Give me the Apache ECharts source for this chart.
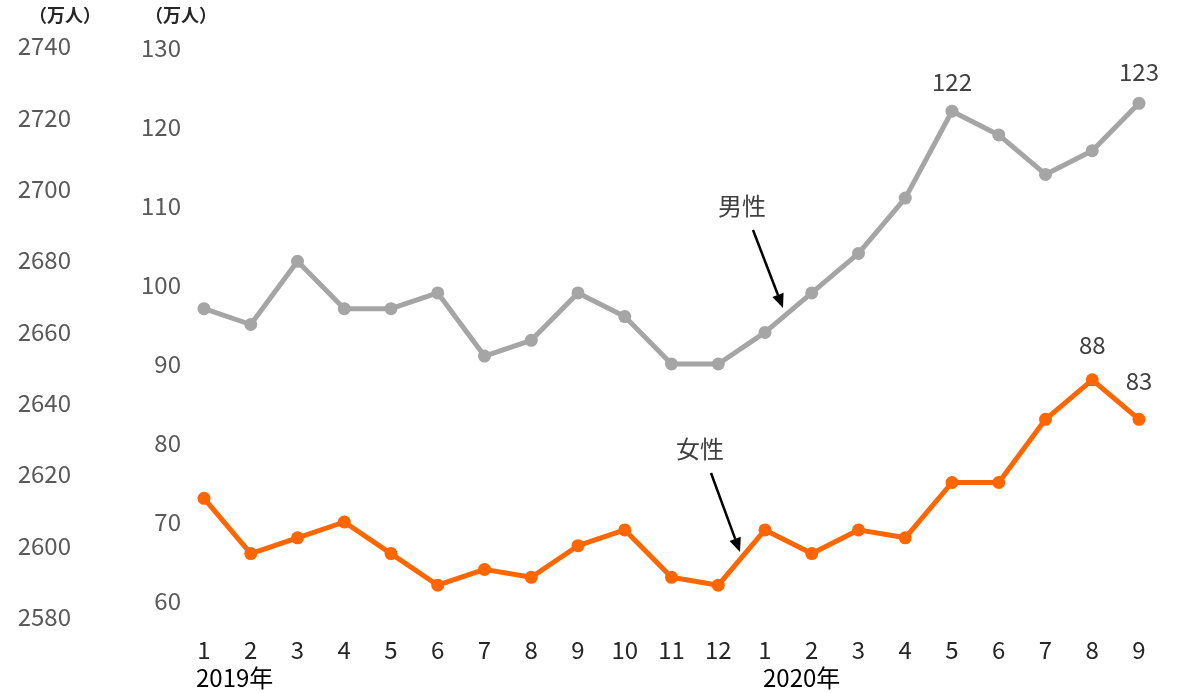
<!DOCTYPE html>
<html>
<head>
<meta charset="utf-8">
<script src="https://cdn.jsdelivr.net/npm/echarts@6/dist/echarts.min.js"></script>
<style>
  html, body { margin: 0; padding: 0; background: #ffffff; }
  #chart { width: 1184px; height: 693px; }
</style>
</head>
<body>
<div id="chart"></div>
<script>
// Months from January 2019 to September 2020
const months = ['1','2','3','4','5','6','7','8','9','10','11','12','1','2','3','4','5','6','7','8','9'];
const yearLabels = ['2019年', '2020年'];

// Employed persons by gender (万人)
const male   = [97, 95, 103, 97, 97, 99, 91, 93, 99, 96, 90, 90, 94, 99, 104, 111, 122, 119, 114, 117, 123];
const female = [73, 66, 68, 70, 66, 62, 64, 63, 67, 69, 63, 62, 69, 66, 69, 68, 75, 75, 83, 88, 83];

// Indices whose values are printed above the point, with label distance
const maleLabeled   = { 16: 11, 20: 13 };
const femaleLabeled = { 19: 16, 20: 20 };

// Scales of the two left axes
const outerAxis = { min: 2580, max: 2740, interval: 20 };
const innerAxis = { min: 60, max: 130, interval: 10 };

const FONT = "'Noto Sans CJK JP', 'Noto Sans', sans-serif";
const GRAY = '#A5A5A5';
const ORANGE = '#FF6600';

function withLabels(values, labeled) {
  return values.map((v, i) => {
    if (labeled[i] === undefined) return v;
    return {
      value: v,
      label: {
        show: true, position: 'top', distance: labeled[i],
        color: '#404040', fontSize: 24, fontFamily: FONT
      }
    };
  });
}

function arrow(x1, y1, x2, y2) {
  const dx = x2 - x1, dy = y2 - y1;
  const len = Math.sqrt(dx * dx + dy * dy);
  const ux = dx / len, uy = dy / len;
  const headLen = 14, half = 6;
  const bx = x2 - ux * headLen, by = y2 - uy * headLen;
  const px = -uy * half, py = ux * half;
  return [
    { type: 'line', shape: { x1: x1, y1: y1, x2: bx, y2: by },
      style: { stroke: '#000', lineWidth: 2.5 } },
    { type: 'polygon', shape: { points: [[x2, y2], [bx + px, by + py], [bx - px, by - py]] },
      style: { fill: '#000' } }
  ];
}

function text(left, top, str, size, color, weight) {
  return {
    type: 'text', left: left, top: top,
    style: { text: str, fontSize: size, fontFamily: FONT, fontWeight: weight || 'normal', fill: color }
  };
}

const chart = echarts.init(document.getElementById('chart'));
chart.setOption({
  animation: false,
  backgroundColor: '#ffffff',
  grid: [
    { left: 94, top: 46, width: 20, height: 571 },
    { left: 204, top: 48, width: 935, height: 553 }
  ],
  xAxis: [
    { gridIndex: 0, type: 'value', min: 0, max: 1, show: false },
    {
      gridIndex: 1, type: 'category', data: months, boundaryGap: false,
      axisLine: { show: false }, axisTick: { show: false }, splitLine: { show: false },
      axisLabel: { color: '#262626', fontSize: 24, fontFamily: FONT, margin: 37, interval: 0 }
    }
  ],
  yAxis: [
    {
      gridIndex: 0, type: 'value', min: outerAxis.min, max: outerAxis.max, interval: outerAxis.interval,
      axisLine: { show: false }, axisTick: { show: false }, splitLine: { show: false },
      axisLabel: { color: '#595959', fontSize: 24, fontFamily: FONT, margin: 23,
                   formatter: v => String(v) }
    },
    {
      gridIndex: 1, type: 'value', min: innerAxis.min, max: innerAxis.max, interval: innerAxis.interval,
      axisLine: { show: false }, axisTick: { show: false }, splitLine: { show: false },
      axisLabel: { color: '#595959', fontSize: 24, fontFamily: FONT, margin: 23 }
    }
  ],
  series: [
    {
      name: '男性', type: 'line', xAxisIndex: 1, yAxisIndex: 1,
      data: withLabels(male, maleLabeled),
      symbol: 'circle', symbolSize: 13,
      lineStyle: { color: GRAY, width: 5 }, itemStyle: { color: GRAY }
    },
    {
      name: '女性', type: 'line', xAxisIndex: 1, yAxisIndex: 1,
      data: withLabels(female, femaleLabeled),
      symbol: 'circle', symbolSize: 13,
      lineStyle: { color: ORANGE, width: 5 }, itemStyle: { color: ORANGE }
    }
  ],
  graphic: [
    text(29, 6, '（万人）', 18, '#262626', 'bold'),
    text(145, 6, '（万人）', 18, '#262626', 'bold'),
    text(196, 666, yearLabels[0], 24, '#000'),
    text(763, 666, yearLabels[1], 24, '#000'),
    text(718, 194, '男性', 24, '#404040'),
    text(676, 437, '女性', 24, '#404040')
  ].concat(arrow(753, 230, 783, 308), arrow(711, 473, 740, 552))
});
</script>
</body>
</html>
